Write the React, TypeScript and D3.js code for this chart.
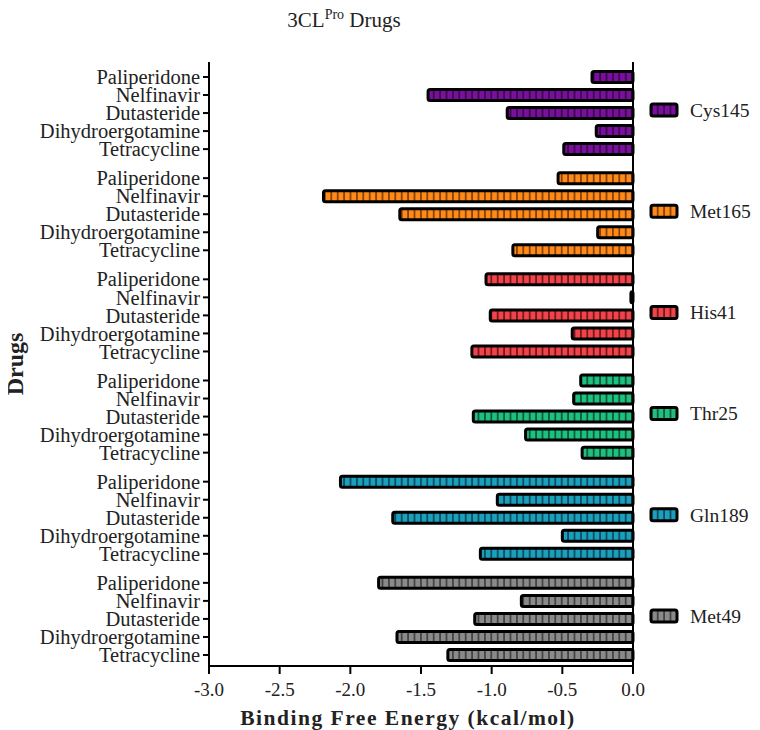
import React from 'react';
import * as d3 from 'd3';

// residues (groups), top to bottom
const residues = ['Cys145', 'Met165', 'His41', 'Thr25', 'Gln189', 'Met49'];
const residueColors = ['#7a0f9e', '#ff8a1c', '#f0444c', '#1fbf7f', '#1b9fbd', '#8a8a8a'];
const residueLines = ['#3d0550', '#8a4200', '#7a1518', '#0b5c3a', '#0b4e5e', '#444444'];

// drugs inside every group, top to bottom
const drugs = ['Paliperidone', 'Nelfinavir', 'Dutasteride', 'Dihydroergotamine', 'Tetracycline'];

// binding free energy per residue, in the order of drugs
const cys145 = [-0.29, -1.45, -0.89, -0.26, -0.49];
const met165 = [-0.53, -2.19, -1.65, -0.25, -0.85];
const his41 = [-1.04, -0.015, -1.01, -0.43, -1.14];
const thr25 = [-0.37, -0.42, -1.13, -0.76, -0.36];
const gln189 = [-2.07, -0.96, -1.70, -0.50, -1.08];
const met49 = [-1.80, -0.79, -1.12, -1.67, -1.31];
const seriesValues = [cys145, met165, his41, thr25, gln189, met49];

const xTicks = [-3.0, -2.5, -2.0, -1.5, -1.0, -0.5, 0.0];

const App = () => {
  const width = 760;
  const height = 730;
  const margin = { top: 62, right: 126, bottom: 64, left: 209 };
  const groupGap = 0.61;
  const rowsPerGroup = drugs.length + groupGap;
  const lastRow = (residues.length - 1) * rowsPerGroup + drugs.length - 1;

  const x = d3.scaleLinear().domain([-3, 0]).range([margin.left, width - margin.right - 1]);
  const y = d3.scaleLinear()
    .domain([-0.83, lastRow + 0.61])
    .range([margin.top, height - margin.bottom]);

  const rowPos = (g: number, d: number) => y(g * rowsPerGroup + d);
  const barH = 11;
  const font = '"Liberation Serif", "Times New Roman", serif';
  const fmt = (t: number) => t.toFixed(1);

  return (
    <svg width={width} height={height} style={{ display: 'block', margin: '-8px 0 0 -8px' }}>
      <defs>
        {residues.map((r, i) => (
          <pattern key={r} id={'pat' + i} patternUnits="userSpaceOnUse" width={6.4} height={20} x={x(0)} y={0}>
            <rect width={6.4} height={20} fill={residueColors[i]} />
            <rect x={4.6} width={1.8} height={20} fill={residueLines[i]} />
          </pattern>
        ))}
      </defs>
      <rect width={width} height={height} fill="#fff" />

      <text x={344} y={27} textAnchor="middle" fontFamily={font} fontSize={21} fill="#222">
        3CL<tspan dy={-8} fontSize={14}>Pro</tspan><tspan dy={8}> Drugs</tspan>
      </text>

      {residues.map((r, g) => (
        <g key={r}>
          {drugs.map((d, i) => {
            const v = seriesValues[g][i];
            const cy = rowPos(g, i);
            return (
              <g key={d}>
                <rect
                  x={x(v)}
                  y={cy - barH / 2}
                  width={x(0) - x(v)}
                  height={barH}
                  rx={2}
                  fill={'url(#pat' + g + ')'}
                  stroke="#000"
                  strokeWidth={3}
                />
                <line x1={margin.left - 6} x2={margin.left} y1={cy} y2={cy} stroke="#000" strokeWidth={2} />
                <text x={margin.left - 9} y={cy} dy="0.35em" textAnchor="end" fontFamily={font} fontSize={20.5} fill="#222">
                  {d}
                </text>
              </g>
            );
          })}
        </g>
      ))}

      {/* legend */}
      {residues.map((r, g) => {
        const cy = (rowPos(g, 0) + rowPos(g, drugs.length - 1)) / 2 - 3;
        return (
          <g key={r}>
            <rect x={651} y={cy - 6} width={26} height={12} rx={2} fill={'url(#pat' + g + ')'} stroke="#000" strokeWidth={3} />
            <text x={690} y={cy} dy="0.35em" fontFamily={font} fontSize={19.5} fill="#222">{r}</text>
          </g>
        );
      })}

      {/* axes */}
      <line x1={margin.left} x2={margin.left} y1={margin.top} y2={height - margin.bottom} stroke="#000" strokeWidth={2} />
      <line x1={x(0)} x2={x(0)} y1={margin.top} y2={height - margin.bottom} stroke="#000" strokeWidth={2} />
      <line x1={margin.left - 1} x2={x(0) + 1} y1={height - margin.bottom} y2={height - margin.bottom} stroke="#000" strokeWidth={2} />
      {xTicks.map(t => (
        <g key={t}>
          <line x1={x(t)} x2={x(t)} y1={height - margin.bottom} y2={height - margin.bottom + 8} stroke="#000" strokeWidth={2} />
          <text x={x(t)} y={height - margin.bottom + 30} textAnchor="middle" fontFamily={font} fontSize={19} fill="#222">
            {fmt(t)}
          </text>
        </g>
      ))}
      <text x={408} y={height - 5} textAnchor="middle" fontFamily={font} fontSize={21.5} fontWeight="bold" letterSpacing={1.5} fill="#222">
        Binding Free Energy (kcal/mol)
      </text>
      <text transform={`translate(23, ${(margin.top + height - margin.bottom) / 2}) rotate(-90)`} textAnchor="middle" fontFamily={font} fontSize={24} fontWeight="bold" fill="#222">
        Drugs
      </text>
    </svg>
  );
};

export default App;
